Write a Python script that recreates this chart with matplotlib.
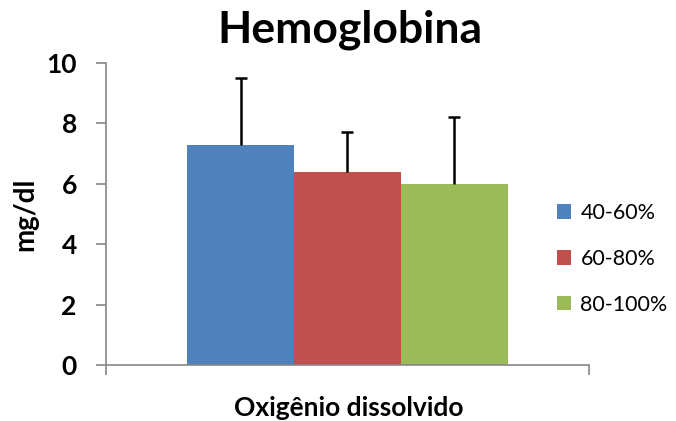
import matplotlib.pyplot as plt

plt.rcParams['font.family'] = ['Lato', 'DejaVu Sans']

# data
groups = ['40-60%', '60-80%', '80-100%']
means = [7.3, 6.4, 6.0]
errors = [2.2, 1.3, 2.2]
colors = ['#4F81BD', '#C0504D', '#9BBB59']

fig = plt.figure(figsize=(6.76, 4.21), dpi=100)
ax = fig.add_axes([0.1568, 0.1330, 0.7145, 0.7174])

width = 0.2215
for i, (g, m, e, c) in enumerate(zip(groups, means, errors, colors)):
    x = (i - 1) * width
    ax.bar(x, m, width=width, color=c, label=g, zorder=2)
    eb = ax.errorbar(x, m, yerr=[[0], [e]], fmt='none', ecolor='black',
                     elinewidth=1.8, capsize=4.5, capthick=1.8, zorder=3)
    # only the upper cap is shown
    eb[1][0].set_visible(False)

ax.set_xlim(-0.5, 0.5)
ax.set_ylim(0, 10)
ax.set_yticks([0, 2, 4, 6, 8, 10])
ax.set_xticks([-0.5, 0.5])
ax.set_xticklabels(['', ''])

for s in ['top', 'right']:
    ax.spines[s].set_visible(False)
for s in ['left', 'bottom']:
    ax.spines[s].set_color('#868686')
    ax.spines[s].set_linewidth(1.2)
ax.tick_params(axis='both', direction='out', length=7, width=1.2, color='#868686')
ax.tick_params(axis='y', labelsize=19, pad=14)
for lbl in ax.get_yticklabels():
    lbl.set_fontweight('bold')

# titles placed in figure coords
fig.text(0.518, 1 - 42 / 421, 'Hemoglobina', fontsize=32, fontweight='bold',
         ha='center', va='baseline')
fig.text(25 / 676, 1 - 214 / 421, 'mg/dl', fontsize=20, fontweight='bold',
         rotation=90, ha='center', va='center')
fig.text(349 / 676, 1 - 408 / 421, 'Oxigênio dissolvido', fontsize=19,
         fontweight='bold', ha='center', va='center')

fig.legend(loc='center left', bbox_to_anchor=(0.795, 0.385), frameon=False,
           fontsize=15.5, handlelength=0.65, handleheight=0.65,
           handletextpad=0.45, labelspacing=1.2)

fig.savefig('out.png', dpi=100)
